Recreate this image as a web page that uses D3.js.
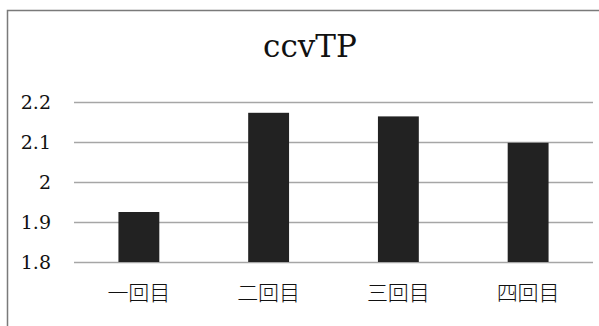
<!DOCTYPE html>
<html>
<head>
<meta charset="utf-8">
<script src="https://cdn.jsdelivr.net/npm/d3@7"></script>
<style>
  html, body { margin: 0; padding: 0; background: #fff; }
  svg { display: block; }
</style>
</head>
<body>
<svg id="chart" width="599" height="326"></svg>
<script>
// Chart data
const categories = ["一回目", "二回目", "三回目", "四回目"];
const values = [1.925, 2.173, 2.164, 2.098];
const yTicks = [1.8, 1.9, 2.0, 2.1, 2.2];
const titleText = "ccvTP";

const svg = d3.select("#chart");
const W = 599, H = 326;
const plot = { left: 74, right: 593, top: 102, bottom: 262 };

// Outer chart frame (top and left edges are visible)
svg.append("path")
  .attr("d", `M7.5,${H} L7.5,10.5 L${W},10.5`)
  .attr("fill", "none")
  .attr("stroke", "#7a7a7a")
  .attr("stroke-width", 1.5);

const x = d3.scaleBand().domain(categories).range([plot.left, plot.right]).padding(0);
const y = d3.scaleLinear().domain([1.8, 2.2]).range([plot.bottom, plot.top]);

// Horizontal gridlines with value labels
const yAxis = d3.axisLeft(y).tickValues(yTicks).tickSize(-(plot.right - plot.left))
  .tickFormat(d => d3.format("")(+d.toFixed(1)));
const gy = svg.append("g").attr("transform", `translate(${plot.left},0)`).call(yAxis);
gy.select(".domain").remove();
gy.selectAll(".tick line").attr("stroke", "#a6a6a6").attr("stroke-width", 1.5);
gy.selectAll(".tick text")
  .attr("x", -23)
  .attr("dy", "0.36em")
  .attr("fill", "#111")
  .style("font-family", "'DejaVu Serif', serif")
  .style("font-size", "19px");

// Bars
const barW = x.bandwidth() * 0.315;
svg.append("g").selectAll("rect").data(values).join("rect")
  .attr("x", (d, i) => x(categories[i]) + x.bandwidth() / 2 - barW / 2)
  .attr("y", d => y(d))
  .attr("width", barW)
  .attr("height", d => y(1.8) - y(d))
  .attr("fill", "#222222");

// Category labels
const xAxis = d3.axisBottom(x).tickSize(0);
const gx = svg.append("g").attr("transform", `translate(0,${plot.bottom})`).call(xAxis);
gx.select(".domain").remove();
gx.selectAll(".tick text")
  .attr("y", 31)
  .attr("dy", "0.35em")
  .attr("fill", "#111")
  .style("font-family", "'Noto Sans CJK JP', sans-serif")
  .style("font-weight", 300)
  .style("font-size", "21px");

// Title
svg.append("text")
  .attr("x", 310)
  .attr("y", 57)
  .attr("text-anchor", "middle")
  .attr("fill", "#111")
  .style("font-family", "'DejaVu Serif', serif")
  .style("font-size", "31px")
  .text(titleText);
</script>
</body>
</html>
